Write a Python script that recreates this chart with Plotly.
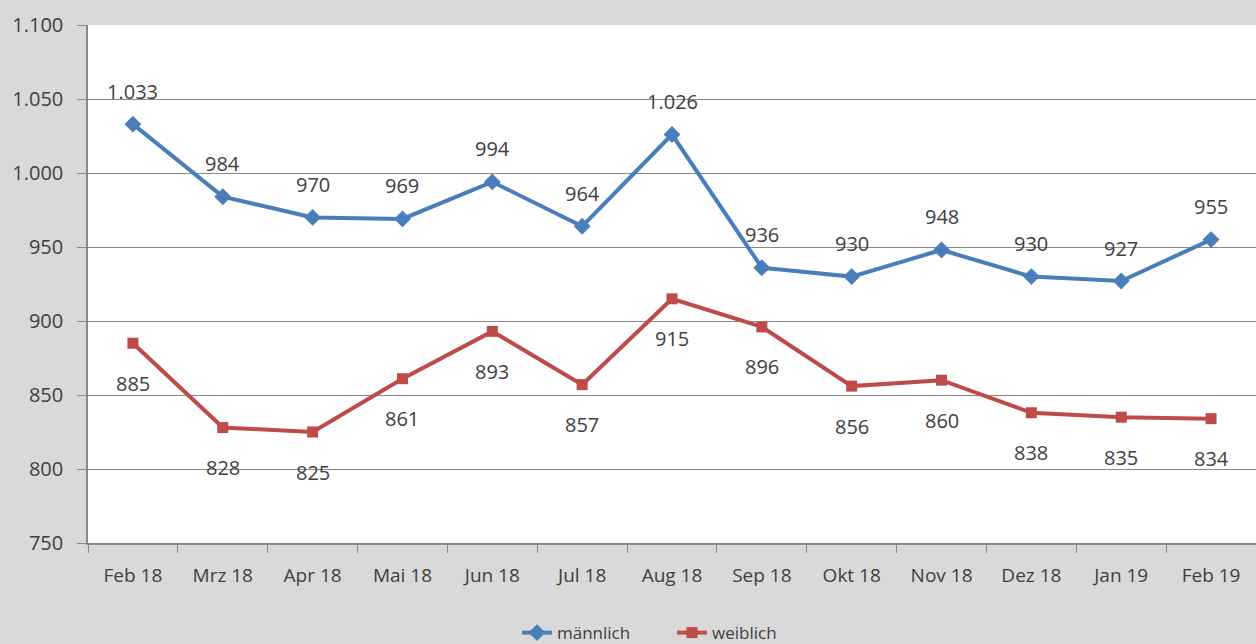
import plotly.graph_objects as go

categories = ["Feb 18", "Mrz 18", "Apr 18", "Mai 18", "Jun 18", "Jul 18", "Aug 18",
              "Sep 18", "Okt 18", "Nov 18", "Dez 18", "Jan 19", "Feb 19"]
maennlich = [1033, 984, 970, 969, 994, 964, 1026, 936, 930, 948, 930, 927, 955]
weiblich = [885, 828, 825, 861, 893, 857, 915, 896, 856, 860, 838, 835, 834]
y_ticks = [750, 800, 850, 900, 950, 1000, 1050, 1100]

BLUE = "#4a7ebb"
RED = "#be4b48"
FONT = "Open Sans"
TXT = "#404040"

fig = go.Figure()
fig.add_trace(go.Scatter(x=categories, y=maennlich, name="männlich", mode="lines+markers",
                         line=dict(color=BLUE, width=4),
                         marker=dict(symbol="diamond", size=13, color=BLUE)))
fig.add_trace(go.Scatter(x=categories, y=weiblich, name="weiblich", mode="lines+markers",
                         line=dict(color=RED, width=4),
                         marker=dict(symbol="square", size=11, color=RED)))

for c, v in zip(categories, maennlich):
    fig.add_annotation(x=c, y=v, text=f"{v:,}".replace(",", "."), showarrow=False,
                       yshift=33, font=dict(family=FONT, size=20, color=TXT))
for c, v in zip(categories, weiblich):
    fig.add_annotation(x=c, y=v, text=f"{v:,}".replace(",", "."), showarrow=False,
                       yshift=-40, font=dict(family=FONT, size=20, color=TXT))

fig.update_layout(
    width=1256, height=644,
    margin=dict(l=88, r=0, t=25, b=101, autoexpand=False),
    paper_bgcolor="#d9d9d9", plot_bgcolor="white",
    separators=",.",
    font=dict(family=FONT, size=20, color=TXT),
    showlegend=True,
    legend=dict(orientation="h", x=0.5, xanchor="center",
                yref="container", y=0.017, yanchor="middle",
                font=dict(family=FONT, size=17, color=TXT), bgcolor="rgba(0,0,0,0)",
                entrywidth=110, entrywidthmode="pixels", tracegroupgap=0),
)
fig.update_xaxes(type="category", range=[-0.5, 12.5], showgrid=False,
                 showline=True, linecolor="#898989", linewidth=1.5,
                 ticks="outside", tickson="boundaries", ticklen=8, tickcolor="#898989",
                 ticklabelstandoff=14,
                 tickfont=dict(family=FONT, size=19, color=TXT), automargin=False)
fig.update_yaxes(range=[750, 1100], tickvals=y_ticks, tickformat=",d",
                 showgrid=True, gridcolor="#898989", gridwidth=1,
                 showline=True, linecolor="#898989", linewidth=1.5,
                 ticks="outside", ticklen=9, tickcolor="#898989",
                 ticklabelstandoff=10,
                 tickfont=dict(family=FONT, size=20, color=TXT), zeroline=False,
                 automargin=False)

fig.write_html("out.html", config={"displayModeBar": False},
               post_script="document.body.style.margin='0';document.body.style.overflow='hidden';")
